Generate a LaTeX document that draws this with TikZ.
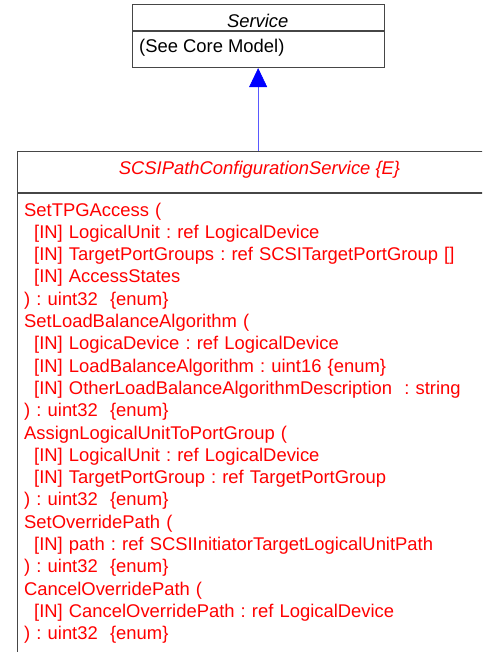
\documentclass[tikz,border=0pt]{standalone}
\usepackage{fontspec}
\setmainfont{Liberation Sans}
\usepackage{tikz}
\usetikzlibrary{positioning,arrows.meta}
\definecolor{linec}{RGB}{70,70,70}
\definecolor{opsc}{RGB}{255,0,0}
\definecolor{inhc}{RGB}{0,0,255}
\tikzset{
  umlbox/.style  = {draw=linec, line width=0.8pt, fill=white, inner sep=0pt, anchor=north west},
  clsname/.style = {font=\fontsize{18.4}{22.3}\selectfont\itshape, anchor=base, inner sep=0pt},
  clsnote/.style = {font=\fontsize{18.4}{22.3}\selectfont, anchor=base west, inner sep=0pt},
  ops/.style     = {font=\fontsize{18.4}{22.3}\selectfont, text=opsc, text width=470pt,
                    align=left, anchor=base west, inner sep=0pt},
  inherit/.style = {-{Triangle[length=19pt,width=18pt,color=inhc]}, line width=0.6pt, draw=inhc!65},
}
\newcommand{\argin}{\hspace*{10pt}}

\begin{document}
\frenchspacing
\begin{tikzpicture}[x=1pt, y=1pt]
\useasboundingbox (0,0) rectangle (482,-652);
\clip (0,0) rectangle (482,-652);

% ---- superclass (top) ----
\node[umlbox, minimum width=251.5pt, minimum height=26pt] (svchead) at (132,-4) {};
\node[umlbox, minimum width=251.5pt, minimum height=36.5pt] (svcbody) at (svchead.south west) {};
\node[clsname] (svcname) at (257.75,-27.3) {Service};
\node[clsnote] (svcnote) at (139,-52.5) {(See Core Model)};

% ---- the service class (below, runs off the page) ----
\node[umlbox, minimum width=486pt, minimum height=41pt] (cfghead) at (16.5,-151) {};
\node[umlbox, minimum width=486pt, minimum height=540pt] (cfgbody) at (cfghead.south west) {};
\node[clsname, text=opsc] (cfgname) at (259.5,-175) {SCSIPathConfigurationService \{E\}};

\node[ops] (cfgops) at (24,-216) {%
  SetTPGAccess (\\
  \argin[IN] LogicalUnit : ref LogicalDevice\\
  \argin[IN] TargetPortGroups : ref SCSITargetPortGroup []\\
  \argin[IN] AccessStates\\
  ) : uint32\ \ \{enum\}\\
  SetLoadBalanceAlgorithm (\\
  \argin[IN] LogicaDevice : ref LogicalDevice\\
  \argin[IN] LoadBalanceAlgorithm : uint16 \{enum\}\\
  \argin[IN] OtherLoadBalanceAlgorithmDescription\ \ : string\\
  ) : uint32\ \ \{enum\}\\
  AssignLogicalUnitToPortGroup (\\
  \argin[IN] LogicalUnit : ref LogicalDevice\\
  \argin[IN] TargetPortGroup : ref TargetPortGroup\\
  ) : uint32\ \ \{enum\}\\
  SetOverridePath (\\
  \argin[IN] path : ref SCSIInitiatorTargetLogicalUnitPath\\
  ) : uint32\ \ \{enum\}\\
  CancelOverridePath (\\
  \argin[IN] CancelOverridePath : ref LogicalDevice\\
  ) : uint32\ \ \{enum\}};

% ---- generalisation ----
\draw[inherit] (cfghead.north -| svcbody.south) -- (svcbody.south);

\end{tikzpicture}
\end{document}
